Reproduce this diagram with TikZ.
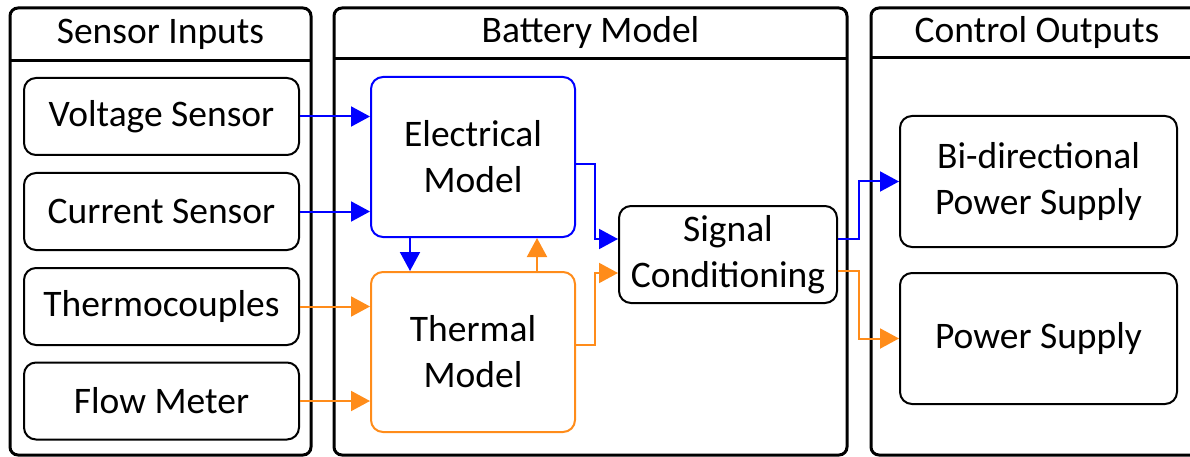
\documentclass[tikz,border=0pt]{standalone}
\usepackage{fontspec}
\setmainfont{Carlito}
\usepackage{tikz}
\usetikzlibrary{arrows.meta,calc,positioning}
\definecolor{Ink}{HTML}{000000}
\definecolor{ElecBlue}{HTML}{0000FF}
\definecolor{HeatOrange}{HTML}{FF8C1A}
\tikzset{
  lane/.style={draw=Ink, line width=3pt, rounded corners=8pt},
  unit/.style={draw=#1, line width=2pt, rounded corners=12pt, align=center,
    font=\fontsize{37.5}{46}\selectfont, inner sep=0pt},
  unit/.default=Ink,
  flow/.style={draw=#1, line width=2pt,
    -{Triangle[length=19pt,width=20pt,fill=#1]}}
}

\begin{document}
\begin{tikzpicture}[x=1pt,y=-1pt]
        \useasboundingbox (0,0) rectangle (1190,457);
        % lanes
        \draw[lane] (10,8) rectangle (311,455);
        \draw[lane] (334,8) rectangle (847,455);
        \draw[lane] (871,8) rectangle (1210,455);
        \draw[line width=3pt] (10,61) -- (311,61);
        \draw[line width=3pt] (334,59) -- (847,59);
        \draw[line width=3pt] (871,58) -- (1210,58);
        \node[font=\fontsize{37.5}{46}\selectfont] (inTitle) at (160.5,34) {Sensor Inputs};
        \node[font=\fontsize{37.5}{46}\selectfont] (modelTitle) at (590.5,33) {Battery Model};
        \node[font=\fontsize{37.5}{46}\selectfont] (outTitle) at (1037,33) {Control Outputs};
        % sensors
        \node[unit, minimum width=275pt, minimum height=77pt] (volt) at (161.5,116.5) {Voltage Sensor};
        \node[unit, minimum width=275pt, minimum height=77pt] (curr) at (161.5,211.5) {Current Sensor};
        \node[unit, minimum width=275pt, minimum height=77pt] (thermo) at (161.5,306.5) {Thermocouples};
        \node[unit, minimum width=275pt, minimum height=77pt] (flow) at (161.5,401) {Flow Meter};
        % models
        \node[unit=ElecBlue, minimum width=204pt, minimum height=160pt] (elec) at (473,157) {Electrical\\Model};
        \node[unit=HeatOrange, minimum width=204pt, minimum height=160pt] (therm) at (473,352) {Thermal\\Model};
        \node[unit, minimum width=218pt, minimum height=97pt] (sig) at (728,254.5) {Signal\\Conditioning};
        % outputs
        \node[unit, minimum width=277pt, minimum height=131pt] (bidir) at (1038.5,181.5) {Bi-directional\\Power Supply};
        \node[unit, minimum width=277pt, minimum height=131pt] (supply) at (1038.5,338.5) {Power Supply};
        % connectors
        \draw[flow=ElecBlue] (volt.east) -- (volt.east -| elec.west);
        \draw[flow=ElecBlue] (curr.east) -- (curr.east -| elec.west);
        \draw[flow=HeatOrange] (thermo.east) -- (thermo.east -| therm.west);
        \draw[flow=HeatOrange] (flow.east) -- (flow.east -| therm.west);
        \draw[flow=ElecBlue] ([xshift=-63pt]elec.south) -- ([xshift=-63pt]therm.north);
        \draw[flow=HeatOrange] ([xshift=64pt]therm.north) -- ([xshift=64pt]elec.south);
        \draw[flow=ElecBlue] ([yshift=-7pt]elec.east) -- ++(19pt,0) |- ([yshift=15.5pt]sig.west);
        \draw[flow=HeatOrange] ([yshift=7pt]therm.east) -- ++(19pt,0) |- ([yshift=-18.5pt]sig.west);
        \draw[flow=ElecBlue] ([yshift=15.5pt]sig.east) -- ++(21pt,0) |- (bidir.west);
        \draw[flow=HeatOrange] ([yshift=-16.5pt]sig.east) -- ++(21pt,0) |- (supply.west);
      \end{tikzpicture}
\end{document}
